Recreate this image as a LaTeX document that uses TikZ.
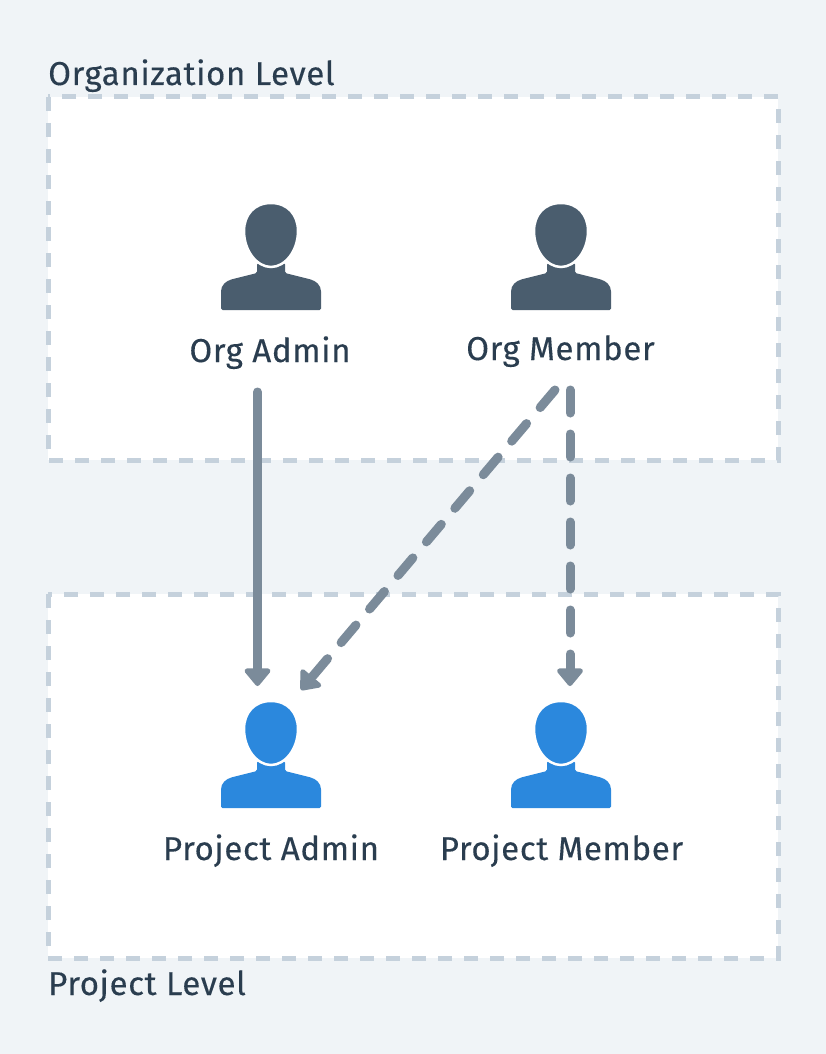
\documentclass[tikz,border=0pt]{standalone}
\usepackage{fontspec}
\setmainfont[LetterSpace=2.0,FakeBold=0.25]{Fira Sans}
\usetikzlibrary{arrows.meta}
\definecolor{bgc}{HTML}{F0F4F7}
\definecolor{boxc}{HTML}{C5D1DC}
\definecolor{textc}{HTML}{2A3D4F}
\definecolor{darkp}{HTML}{4A5D6E}
\definecolor{bluep}{HTML}{2B88DD}
\definecolor{arrowc}{HTML}{7B8B9A}
\tikzset{
  levelbox/.style={draw=boxc,fill=white,line width=5pt,dash pattern=on 14pt off 12pt},
  lbl/.style={text=textc,font=\fontsize{33}{38}\selectfont,anchor=base,inner sep=0pt},
  conn/.style={draw=arrowc,line width=9pt,line cap=round,-{Triangle[length=19pt,width=30pt,round]}},
  dashconn/.style={conn,dash pattern=on 23pt off 21pt},
  pics/person/.style={code={
    \fill[#1,rounded corners=1.5pt] (-50,45) -- (-50,28)
      .. controls (-50,20) and (-45,16) .. (-38,14)
      -- (-14,8) -- (-14,-2) -- (14,-2) -- (14,8) -- (38,14)
      .. controls (45,16) and (50,20) .. (50,28)
      -- (50,45) -- cycle;
    \path[fill=#1,draw=white,line width=2.5pt] (0,-62) .. controls (17,-62) and (27,-50) .. (27,-34)
      .. controls (27,-14) and (14,2) .. (0,2)
      .. controls (-14,2) and (-27,-14) .. (-27,-34)
      .. controls (-27,-50) and (-17,-62) .. (0,-62) -- cycle;
  }}
}
\begin{document}
\begin{tikzpicture}[x=1pt,y=-1pt]
\path[fill=bgc,use as bounding box] (0,0) rectangle (826,1054);
\path[levelbox] (48,97) rectangle (778,460);
\path[levelbox] (48,594) rectangle (778,958);
\node[lbl,anchor=base west] (orglevel) at (48,85) {Organization Level};
\node[lbl,anchor=base west] (projlevel) at (48,995) {Project Level};
\pic at (271,265) {person=darkp};
\pic at (561,265) {person=darkp};
\pic at (271,763) {person=bluep};
\pic at (561,763) {person=bluep};
\node[lbl] (orgadmin) at (270,362) {Org Admin};
\node[lbl] (orgmember) at (560.5,360) {Org Member};
\node[lbl] (projadmin) at (271,860) {Project Admin};
\node[lbl] (projmember) at (561.5,860) {Project Member};
\coordinate (a1) at (257.5,392);
\coordinate (a2) at (257.5,686);
\coordinate (b1) at (555,390);
\coordinate (b2) at (301,690);
\coordinate (c1) at (570,390);
\coordinate (c2) at (570,686);
\draw[conn] (a1) -- (a2);
\draw[dashconn] (b1) -- (b2);
\draw[dashconn] (c1) -- (c2);
\end{tikzpicture}
\end{document}
